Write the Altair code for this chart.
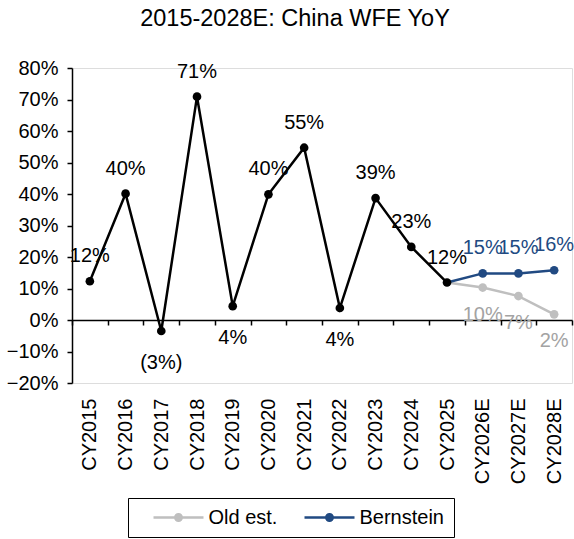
import altair as alt
import pandas as pd

# ---- data ----
years = ["CY2015", "CY2016", "CY2017", "CY2018", "CY2019", "CY2020", "CY2021",
         "CY2022", "CY2023", "CY2024", "CY2025", "CY2026E", "CY2027E", "CY2028E"]

actual_years = years[:11]
actual_vals = [0.123, 0.401, -0.035, 0.709, 0.044, 0.399, 0.547, 0.038, 0.387, 0.232, 0.119]
actual_text = ["12%", "40%", "(3%)", "71%", "4%", "40%", "55%", "4%", "39%", "23%", "12%"]
actual_pos = ["above", "above", "below", "above", "below", "above", "above", "below",
              "above", "above", "above"]

fc_years = ["CY2025", "CY2026E", "CY2027E", "CY2028E"]
old_vals = [0.119, 0.103, 0.076, 0.018]
old_text = ["", "10%", "7%", "2%"]
bern_vals = [0.119, 0.148, 0.148, 0.158]
bern_text = ["", "15%", "15%", "16%"]

series_names = ["Old est.", "Bernstein"]
series_colors = ["#BFBFBF", "#214A82"]
old_label_color = "#A3A3A3"

FONT = "Liberation Sans"
FS = 20

act = pd.DataFrame({"year": actual_years, "value": actual_vals, "text": actual_text,
                    "pos": actual_pos})
fc = pd.concat([
    pd.DataFrame({"year": fc_years, "value": old_vals, "text": old_text, "series": "Old est."}),
    pd.DataFrame({"year": fc_years, "value": bern_vals, "text": bern_text, "series": "Bernstein"}),
], ignore_index=True)

xscale = alt.Scale(type="band", domain=years, paddingInner=0, paddingOuter=0)
yscale = alt.Scale(domain=[-0.2, 0.8], nice=False, zero=False)

x_axis = alt.Axis(title=None, labelAngle=-90, labelFont=FONT, labelFontSize=FS,
                  labelColor="black", domainColor="black", domainWidth=1.5,
                  tickColor="black", tickSize=5, tickWidth=1.5, tickBand="extent",
                  offset=-63, labelPadding=73, labelAlign="right", labelBaseline="middle",
                  grid=False)
y_axis = alt.Axis(title=None, values=[-0.2, -0.1, 0, 0.1, 0.2, 0.3, 0.4, 0.5, 0.6, 0.7, 0.8],
                  format=".0%", labelFont=FONT, labelFontSize=FS, labelColor="black",
                  domainColor="black", domainWidth=1.5, tickColor="black", tickSize=5,
                  tickWidth=1.5, labelPadding=9, grid=False)

X = alt.X("year:N", scale=xscale, axis=x_axis, sort=years)
Y = alt.Y("value:Q", scale=yscale, axis=y_axis)

legend_path = ("M-1,-0.05L-0.17,-0.05L-0.17,0.05L-1,0.05Z "
               "M0.17,-0.05L1,-0.05L1,0.05L0.17,0.05Z "
               "M-0.18,0A0.18,0.18,0,1,1,0.18,0A0.18,0.18,0,1,1,-0.18,0Z")

base_fc = alt.Chart(fc)
old_line = base_fc.transform_filter(alt.datum.series == "Old est.").mark_line(
    color=series_colors[0], strokeWidth=2.5).encode(x=X, y=Y)
bern_line = base_fc.transform_filter(alt.datum.series == "Bernstein").mark_line(
    color=series_colors[1], strokeWidth=2.5).encode(x=X, y=Y)
fc_points = base_fc.transform_filter(alt.datum.year != "CY2025").mark_point(
    filled=True, size=75, opacity=1, shape="circle").encode(
    x=X, y=Y,
    color=alt.Color("series:N",
                    scale=alt.Scale(domain=series_names, range=series_colors),
                    legend=alt.Legend(title=None, orient="none", legendX=56, legendY=430,
                                      direction="horizontal", strokeColor="black",
                                      padding=9.5, symbolType=legend_path, symbolSize=2500,
                                      clipHeight=20, symbolOffset=16, labelOffset=5,
                                      columnPadding=11,
                                      labelFont=FONT, labelFontSize=FS, labelColor="black",
                                      symbolStrokeWidth=0, symbolOpacity=1)))

act_line = alt.Chart(act).mark_line(color="black", strokeWidth=2.5).encode(x=X, y=Y)
act_points = alt.Chart(act).mark_point(filled=True, size=75, opacity=1, color="black",
                                       shape="circle").encode(x=X, y=Y)

act_above = alt.Chart(act).transform_filter(alt.datum.pos == "above").mark_text(
    font=FONT, fontSize=FS, color="black", dy=-19, baseline="alphabetic").encode(
    x=X, y=Y, text="text:N")
act_below = alt.Chart(act).transform_filter(alt.datum.pos == "below").mark_text(
    font=FONT, fontSize=FS, color="black", dy=38, baseline="alphabetic").encode(
    x=X, y=Y, text="text:N")
bern_labels = base_fc.transform_filter(alt.datum.series == "Bernstein").mark_text(
    font=FONT, fontSize=FS, color=series_colors[1], dy=-19, baseline="alphabetic").encode(
    x=X, y=Y, text="text:N")
old_labels = base_fc.transform_filter(alt.datum.series == "Old est.").mark_text(
    font=FONT, fontSize=FS, color=old_label_color, dy=33, baseline="alphabetic").encode(
    x=X, y=Y, text="text:N")

chart = alt.layer(
    old_line, bern_line, act_line, fc_points, act_points,
    act_above, act_below, bern_labels, old_labels
).properties(
    width=500, height=315,
    title=alt.TitleParams("2015-2028E: China WFE YoY", font=FONT, fontSize=23.5,
                          fontWeight="normal", color="black", anchor="middle",
                          frame="group", offset=9, baseline="alphabetic", dx=-27),
    autosize=alt.AutoSizeParams(type="none"),
    padding={"left": 72, "top": 68, "right": 2, "bottom": 156},
).configure_view(stroke=None).configure(background="white")

chart.save("out.html", embed_options={"renderer": "svg", "actions": False})
